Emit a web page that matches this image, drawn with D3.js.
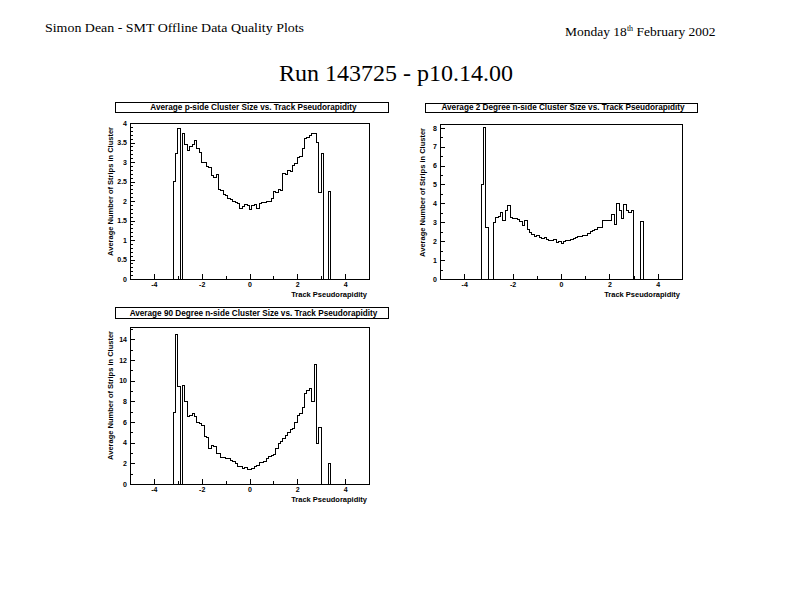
<!DOCTYPE html>
<html>
<head>
<meta charset="utf-8">
<script src="https://cdn.jsdelivr.net/npm/d3@7"></script>
<style>
  body { margin: 0; background: #fff; }
  svg { display: block; }
  .tick text { font-family: "Liberation Sans", Arial, sans-serif; font-weight: bold; font-size: 7px; }
</style>
</head>
<body>
<script>
// histogram bins: 0.1 wide, first bin starts at eta = -3.3, everything outside is empty
const binStart = -3.3;
const binWidth = 0.1;

const pSide = [
  0, 2.5, 3.22, 3.85, 0, 3.73, 3.45, 3.3, 3.4, 3.45,
  3.55, 3.35, 3.25, 3.0, 2.98, 2.88, 2.85, 2.65, 2.6, 2.68,
  2.3, 2.28, 2.17, 2.15, 2.07, 2.05, 2.0, 1.95, 1.93, 1.82,
  1.86, 1.9, 1.88, 1.78, 1.88, 1.9, 1.82, 1.94, 1.95, 1.97,
  1.98, 2.0, 2.07, 2.24, 2.22, 2.3, 2.28, 2.7, 2.68, 2.78,
  2.75, 2.9, 2.95, 3.12, 3.15, 3.35, 3.6, 3.63, 3.67, 3.72,
  3.74, 3.5, 2.22, 3.22, 0, 0, 2.24, 0
];

const nSide2 = [
  5.0, 8.0, 2.75, 0, 0, 3.0, 3.25, 3.3, 3.5, 3.1,
  3.6, 3.9, 3.25, 3.2, 3.2, 3.15, 3.05, 2.85, 3.08, 2.6,
  2.45, 2.35, 2.25, 2.28, 2.2, 2.15, 2.2, 2.1, 2.02, 2.05,
  2.08, 1.95, 1.98, 1.9, 2.0, 2.05, 2.02, 2.1, 2.15, 2.2,
  2.25, 2.25, 2.3, 2.32, 2.4, 2.5, 2.55, 2.62, 2.7, 2.72,
  3.1, 3.12, 3.08, 3.1, 3.4, 2.87, 4.0, 3.65, 3.2, 3.95,
  3.6, 3.5, 3.65, 0, 0, 0, 3.05, 0
];

const nSide90 = [
  0, 6.95, 14.5, 9.45, 0, 9.5, 8.0, 6.5, 6.6, 6.85,
  6.5, 5.95, 5.9, 5.7, 4.6, 4.5, 3.45, 3.7, 3.6, 2.97,
  2.95, 2.6, 2.55, 2.5, 2.45, 2.3, 2.2, 1.95, 1.68, 1.65,
  1.52, 1.55, 1.45, 1.36, 1.5, 1.7, 1.75, 2.06, 2.1, 2.16,
  2.5, 2.65, 2.8, 2.9, 3.45, 3.9, 4.1, 4.4, 4.74, 5.0,
  5.3, 5.4, 6.0, 6.67, 6.8, 7.42, 8.77, 9.1, 9.2, 8.03,
  11.6, 3.94, 5.45, 0, 0, 0, 1.94, 0
];

const etaRange = [-5, 5];
const etaTicks = [-4, -2, 0, 2, 4];
const etaMinor = [-5, -3, -1, 1, 3, 5];

const pSideTicks = [0, 0.5, 1, 1.5, 2, 2.5, 3, 3.5, 4];
const nSide2Ticks = [0, 1, 2, 3, 4, 5, 6, 7, 8];
const nSide90Ticks = [0, 2, 4, 6, 8, 10, 12, 14];

const titles = [
  'Average p-side Cluster Size vs. Track Pseudorapidity',
  'Average 2 Degree n-side Cluster Size vs. Track Pseudorapidity',
  'Average 90 Degree n-side Cluster Size vs. Track Pseudorapidity'
];
const yTitle = 'Average Number of Strips in Cluster';
const xTitle = 'Track Pseudorapidity';

const w = 794;
const h = 595;
const sans = '"Liberation Sans", Arial, sans-serif';
const serif = '"Liberation Serif", "Times New Roman", serif';

const svg = d3.select('body')
  .append('svg')
  .attr('width', w)
  .attr('height', h);

// page header
svg.append('text')
  .attr('x', 45).attr('y', 32)
  .attr('font-family', serif).attr('font-size', 13)
  .attr('textLength', 259).attr('lengthAdjust', 'spacingAndGlyphs')
  .text('Simon Dean - SMT Offline Data Quality Plots');

const date = svg.append('text')
  .attr('x', 565).attr('y', 36)
  .attr('font-family', serif).attr('font-size', 13.5);
date.append('tspan').text('Monday 18');
date.append('tspan').attr('font-size', 8).attr('dy', -5).text('th');
date.append('tspan').attr('dy', 5).text(' February 2002');

svg.append('text')
  .attr('x', 396).attr('y', 81)
  .attr('text-anchor', 'middle')
  .attr('font-family', serif).attr('font-size', 24)
  .text('Run 143725 - p10.14.00');

const panels = [
  { values: pSide, title: titles[0], yMax: 4, ticks: pSideTicks, minorStep: 0.1,
    box: [115, 102, 388, 112], frame: [130, 123, 369, 279], yTitleX: 110 },
  { values: nSide2, title: titles[1], yMax: 8.2, ticks: nSide2Ticks, minorStep: 0.5,
    box: [425, 103, 697, 112], frame: [440, 124, 682, 279], yTitleX: 422 },
  { values: nSide90, title: titles[2], yMax: 15.2, ticks: nSide90Ticks, minorStep: 1,
    box: [115, 307, 388, 318], frame: [130, 327, 369, 484], yTitleX: 110 }
];

panels.forEach(p => {
  const [fx0, fy0, fx1, fy1] = p.frame;
  const x = d3.scaleLinear().domain(etaRange).range([fx0, fx1]);
  const y = d3.scaleLinear().domain([0, p.yMax]).range([fy1, fy0]);
  const g = svg.append('g');

  // title box
  const [bx0, by0, bx1, by1] = p.box;
  g.append('rect')
    .attr('x', bx0 + 0.5).attr('y', by0 + 0.5)
    .attr('width', bx1 - bx0).attr('height', by1 - by0)
    .attr('fill', '#fff').attr('stroke', '#000').attr('stroke-width', 1);
  g.append('text')
    .attr('x', (bx0 + bx1) / 2 + 2).attr('y', by1 - 2)
    .attr('text-anchor', 'middle')
    .attr('font-family', sans).attr('font-weight', 'bold').attr('font-size', 8.2)
    .text(p.title);

  // histogram outline
  const pts = [[etaRange[0], 0]];
  p.values.forEach((v, i) => pts.push([binStart + i * binWidth, v]));
  pts.push([binStart + p.values.length * binWidth, 0]);
  pts.push([etaRange[1], 0]);
  const line = d3.line()
    .x(d => x(d[0]))
    .y(d => y(d[1]))
    .curve(d3.curveStepAfter);
  g.append('path')
    .attr('d', line(pts))
    .attr('fill', 'none')
    .attr('stroke', '#000')
    .attr('stroke-width', 1)
    .attr('shape-rendering', 'crispEdges');

  // axes, ticks pointing inside the frame
  const xMajor = d3.axisBottom(x).tickValues(etaTicks).tickSize(-5).tickPadding(3)
    .tickFormat(d => String(d));
  const xMin = d3.axisBottom(x).tickValues(etaMinor).tickSize(-3).tickFormat('');
  const yMajor = d3.axisLeft(y).tickValues(p.ticks).tickSize(-5).tickPadding(3)
    .tickFormat(d3.format('~g'));
  const yMin = d3.axisLeft(y).tickValues(d3.range(0, p.yMax + 1e-9, p.minorStep)).tickSize(-3).tickFormat('');

  [[xMin, `translate(0,${fy1})`], [xMajor, `translate(0,${fy1})`],
   [yMin, `translate(${fx0},0)`], [yMajor, `translate(${fx0},0)`]].forEach(([ax, tr]) => {
    const a = g.append('g').attr('transform', tr).call(ax);
    a.select('.domain').remove();
    a.selectAll('.tick line').attr('stroke', '#000').attr('shape-rendering', 'crispEdges');
    a.selectAll('.tick text').attr('fill', '#000');
  });

  // frame
  g.append('rect')
    .attr('x', fx0 + 0.5).attr('y', fy0 + 0.5)
    .attr('width', fx1 - fx0).attr('height', fy1 - fy0)
    .attr('fill', 'none').attr('stroke', '#000').attr('stroke-width', 1);

  // axis titles
  g.append('text')
    .attr('x', fx1 - 2).attr('y', fy1 + 18)
    .attr('text-anchor', 'end')
    .attr('font-family', sans).attr('font-weight', 'bold').attr('font-size', 7.5)
    .text(xTitle);
  g.append('text')
    .attr('transform', `translate(${p.yTitleX + 3},${fy0 + 4}) rotate(-90)`)
    .attr('text-anchor', 'end')
    .attr('font-family', sans).attr('font-weight', 'bold').attr('font-size', 7.5)
    .text(yTitle);
});
</script>
</body>
</html>
